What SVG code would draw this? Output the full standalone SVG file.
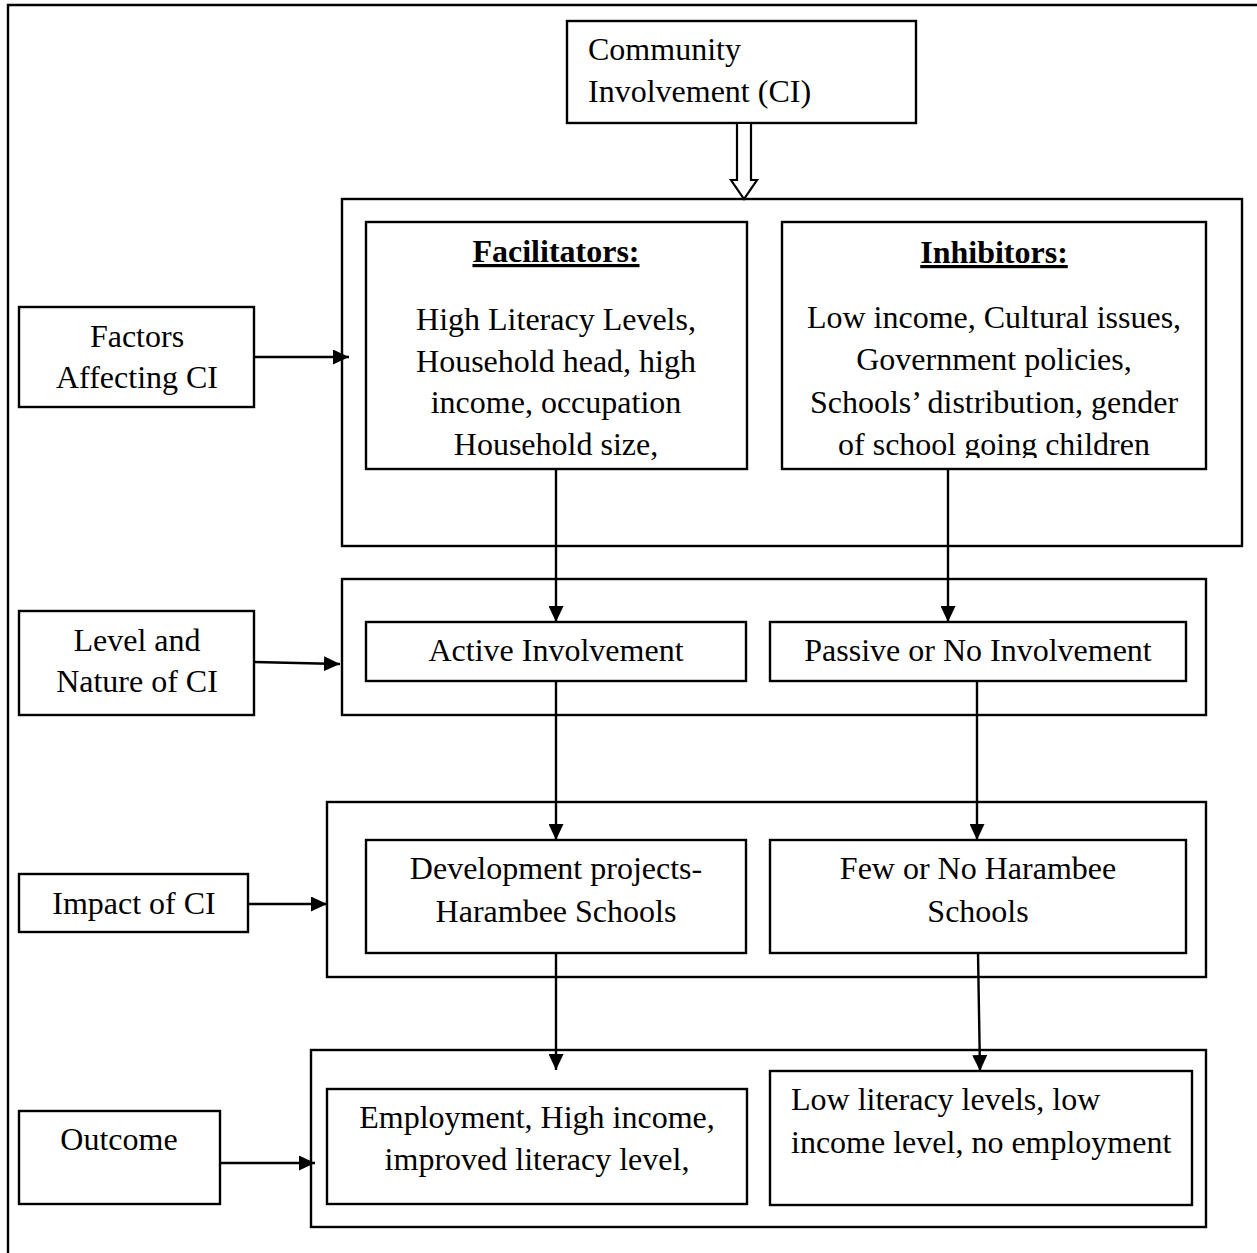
<svg xmlns="http://www.w3.org/2000/svg" width="1257" height="1253" viewBox="0 0 1257 1253">
<style>
.box{fill:#fff;stroke:#000;stroke-width:2.4}
.t{font-family:"Liberation Serif","Times New Roman",serif;font-size:32px;fill:#000}
.c{text-anchor:middle}
.h{font-weight:bold;text-decoration:underline}
.ln{stroke:#000;stroke-width:2.4;fill:none}
</style>
<defs>
<marker id="ah" viewBox="0 0 16 15" refX="16" refY="7.5" markerWidth="16" markerHeight="15" markerUnits="userSpaceOnUse" orient="auto">
<path d="M0,0 L16,7.5 L0,15 Z" fill="#000"/>
</marker>
<clipPath id="inhClip"><rect x="782" y="222" width="424" height="236"/></clipPath>
</defs>
<rect width="1257" height="1253" fill="#fff"/>
<path class="ln" d="M8,1253 V5 H1257"/>

<g id="ci">
<rect class="box" x="567" y="21" width="349" height="102"/>
<text class="t" x="588" y="60">Community</text>
<text class="t" x="588" y="102">Involvement (CI)</text>
</g>

<g id="group-factors">
<rect class="box" x="342" y="199" width="900" height="347"/>
</g>
<g id="group-level">
<rect class="box" x="342" y="579" width="864" height="136"/>
</g>
<g id="group-impact">
<rect class="box" x="327" y="802" width="879" height="175"/>
</g>
<g id="group-outcome">
<rect class="box" x="311" y="1050" width="895" height="177"/>
</g>

<g id="facilitators">
<rect class="box" x="366" y="222" width="381" height="247"/>
<text class="t c h" x="556" y="262">Facilitators:</text>
<text class="t c" x="556" y="330">High Literacy Levels,</text>
<text class="t c" x="556" y="372">Household head, high</text>
<text class="t c" x="556" y="413">income, occupation</text>
<text class="t c" x="556" y="455">Household size,</text>
</g>

<g id="inhibitors">
<rect class="box" x="782" y="222" width="424" height="247"/>
<text class="t c h" x="994" y="263">Inhibitors:</text>
<g clip-path="url(#inhClip)">
<text class="t c" x="994" y="328">Low income, Cultural issues,</text>
<text class="t c" x="994" y="370">Government policies,</text>
<text class="t c" x="994" y="413">Schools’ distribution, gender</text>
<text class="t c" x="994" y="455">of school going children</text>
</g>
</g>

<g id="factors">
<rect class="box" x="19" y="307" width="235" height="100"/>
<text class="t c" x="137" y="347">Factors</text>
<text class="t c" x="137" y="388">Affecting CI</text>
</g>

<g id="level">
<rect class="box" x="19" y="611" width="235" height="104"/>
<text class="t c" x="137" y="651">Level and</text>
<text class="t c" x="137" y="692">Nature of CI</text>
</g>

<g id="active">
<rect class="box" x="366" y="622" width="380" height="59"/>
<text class="t c" x="556" y="661">Active Involvement</text>
</g>

<g id="passive">
<rect class="box" x="770" y="622" width="416" height="59"/>
<text class="t c" x="978" y="661">Passive or No Involvement</text>
</g>

<g id="impact">
<rect class="box" x="19" y="874" width="229" height="58"/>
<text class="t c" x="134" y="914">Impact of CI</text>
</g>

<g id="development">
<rect class="box" x="366" y="840" width="380" height="113"/>
<text class="t c" x="556" y="879">Development projects-</text>
<text class="t c" x="556" y="922">Harambee Schools</text>
</g>

<g id="few">
<rect class="box" x="770" y="840" width="416" height="113"/>
<text class="t c" x="978" y="879">Few or No Harambee</text>
<text class="t c" x="978" y="922">Schools</text>
</g>

<g id="outcome">
<rect class="box" x="19" y="1111" width="201" height="93"/>
<text class="t c" x="119" y="1150">Outcome</text>
</g>

<g id="employment">
<rect class="box" x="327" y="1089" width="420" height="115"/>
<text class="t c" x="537" y="1128">Employment, High income,</text>
<text class="t c" x="537" y="1170">improved literacy level,</text>
</g>

<g id="lowlit">
<rect class="box" x="770" y="1071" width="422" height="134"/>
<text class="t" x="791" y="1110">Low literacy levels, low</text>
<text class="t" x="791" y="1153">income level, no employment</text>
</g>

<g id="connectors">
<polygon points="737,123 751,123 751,180 757,180 744,199 731,180 737,180" fill="#fff" stroke="#000" stroke-width="2.2" stroke-linejoin="miter"/>
<line class="ln" x1="254" y1="357" x2="349" y2="357" marker-end="url(#ah)"/>
<line class="ln" x1="254" y1="662" x2="340" y2="664" marker-end="url(#ah)"/>
<line class="ln" x1="248" y1="904" x2="327" y2="904" marker-end="url(#ah)"/>
<line class="ln" x1="220" y1="1163" x2="315" y2="1163" marker-end="url(#ah)"/>
<line class="ln" x1="556" y1="469" x2="556" y2="622" marker-end="url(#ah)"/>
<line class="ln" x1="948" y1="469" x2="948" y2="622" marker-end="url(#ah)"/>
<line class="ln" x1="556" y1="681" x2="556" y2="840" marker-end="url(#ah)"/>
<line class="ln" x1="977" y1="681" x2="977" y2="840" marker-end="url(#ah)"/>
<line class="ln" x1="556" y1="953" x2="556" y2="1070" marker-end="url(#ah)"/>
<line class="ln" x1="978" y1="953" x2="980" y2="1071" marker-end="url(#ah)"/>
</g>
</svg>
